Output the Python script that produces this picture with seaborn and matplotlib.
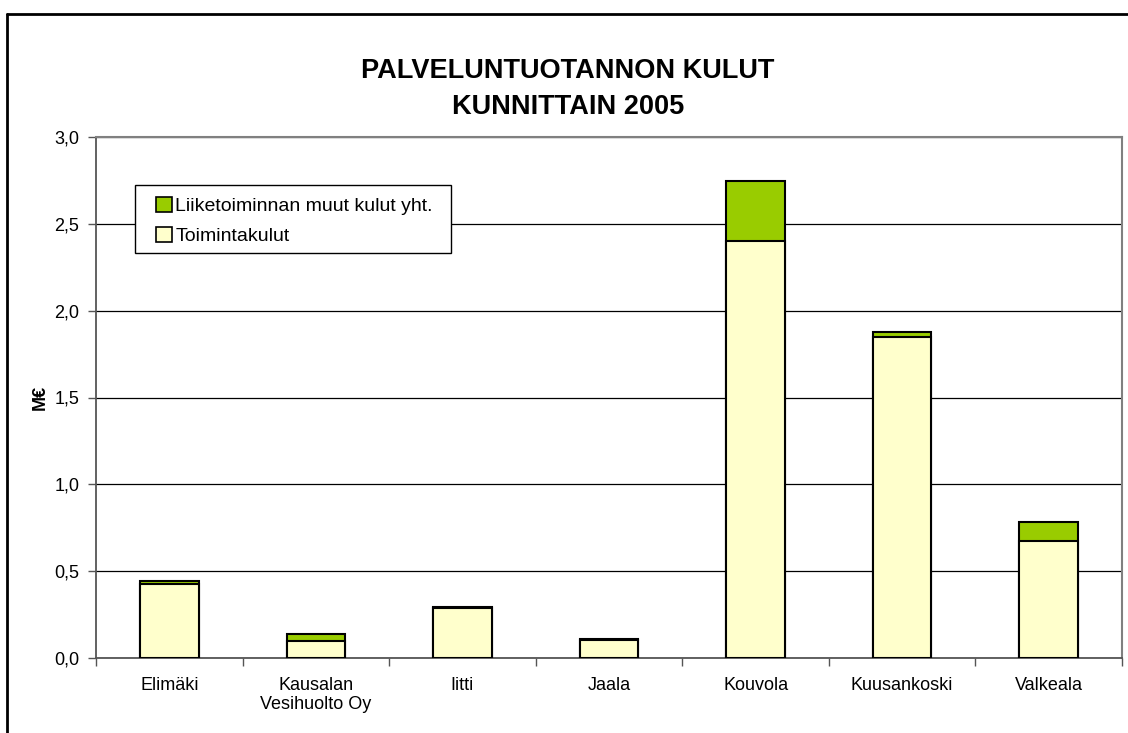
import matplotlib
matplotlib.use("Agg")
import matplotlib.pyplot as plt
import seaborn as sns
import pandas as pd
from matplotlib.patches import Patch, Rectangle
from matplotlib.lines import Line2D
from matplotlib.ticker import FuncFormatter, MultipleLocator, FixedLocator

categories = ["Elimäki", "Kausalan\nVesihuolto Oy", "Iitti", "Jaala", "Kouvola", "Kuusankoski", "Valkeala"]
toimintakulut = [0.425, 0.098, 0.290, 0.104, 2.400, 1.848, 0.675]
muut_kulut = [0.018, 0.040, 0.005, 0.005, 0.348, 0.030, 0.108]
series_names = ["Liiketoiminnan muut kulut yht.", "Toimintakulut"]
title = "PALVELUNTUOTANNON KULUT\nKUNNITTAIN 2005"
y_label = "M€"

sns.set_theme(style="white")
plt.rcParams["font.family"] = ["Liberation Sans", "DejaVu Sans"]
plt.rcParams["text.color"] = "black"
plt.rcParams["axes.labelcolor"] = "black"
plt.rcParams["xtick.color"] = "black"
plt.rcParams["ytick.color"] = "black"

df = pd.DataFrame({
    "kunta": categories,
    "toim": toimintakulut,
    "total": [a + b for a, b in zip(toimintakulut, muut_kulut)],
})

W, H = 1128, 733
fig = plt.figure(figsize=(W / 100, H / 100), dpi=100)
ax = fig.add_axes([96 / W, (H - 658) / H, (1122 - 96) / W, (658 - 137) / H])

green = "#99CC00"
yellow = "#FFFFCC"
sns.barplot(data=df, x="kunta", y="total", color=green, saturation=1, width=0.40,
            edgecolor="black", linewidth=1.5, ax=ax, zorder=3)
sns.barplot(data=df, x="kunta", y="toim", color=yellow, saturation=1, width=0.40,
            edgecolor="black", linewidth=1.5, ax=ax, zorder=4)

ax.set_xlim(-0.5, len(categories) - 0.5)
ax.set_ylim(0, 3.0)
ax.yaxis.set_major_locator(MultipleLocator(0.5))
ax.yaxis.set_major_formatter(FuncFormatter(lambda v, p: f"{v:.1f}".replace(".", ",")))
ax.grid(axis="y", color="black", linewidth=0.9, zorder=0)
ax.set_axisbelow(True)

ax.set_xticks(range(len(categories)))
ax.set_xticklabels(categories, fontsize=13, linespacing=1.15)
ax.xaxis.set_minor_locator(FixedLocator([i + 0.5 for i in range(-1, len(categories))]))
ax.tick_params(axis="x", which="major", length=0, pad=14)
ax.tick_params(axis="x", which="minor", length=6, width=1, color="#555555", direction="out", bottom=True)
ax.tick_params(axis="y", which="major", length=6, width=1, color="#555555", direction="out", left=True,
               labelsize=13, pad=6)
ax.set_xlabel("")
ax.set_ylabel(y_label, fontsize=13, fontweight="bold", labelpad=4)

for side in ["top", "right"]:
    ax.spines[side].set_color("#808080")
    ax.spines[side].set_linewidth(1.5)
for side in ["left", "bottom"]:
    ax.spines[side].set_color("#555555")
    ax.spines[side].set_linewidth(1.3)

fig.text(568 / W, 1 - 89 / H, title, ha="center", va="center", fontsize=19.5,
         fontweight="bold", linespacing=1.5)

# legend frame drawn separately (Excel style, wide padding)
fig.add_artist(Rectangle((135 / W, 1 - 253 / H), (451 - 135) / W, (253 - 185) / H,
                         transform=fig.transFigure, facecolor="white", edgecolor="black",
                         linewidth=1.0, zorder=9))
handles = [Patch(facecolor=green, edgecolor="black", linewidth=1.2),
           Patch(facecolor=yellow, edgecolor="black", linewidth=1.2)]
leg = fig.legend(handles, series_names, loc="center left",
                 bbox_to_anchor=(156 / W, 1 - 221 / H),
                 fontsize=14, frameon=False,
                 handlelength=0.8, handleheight=0.8, handletextpad=0.2,
                 borderpad=0, labelspacing=0.62, borderaxespad=0)
leg.set_zorder(10)

# outer chart border
fig.add_artist(Line2D([7 / W, 7 / W], [0, 1 - 14 / H], transform=fig.transFigure, color="black", linewidth=2))
fig.add_artist(Line2D([7 / W, 1], [1 - 14 / H, 1 - 14 / H], transform=fig.transFigure, color="black", linewidth=2))

fig.savefig("out.png", dpi=100)
